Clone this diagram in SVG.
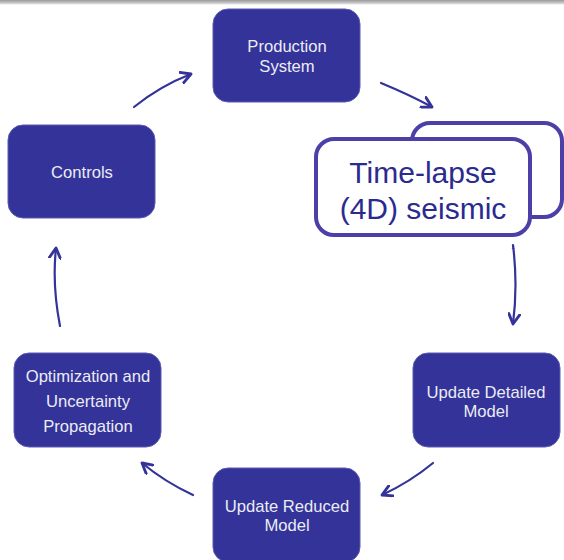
<svg xmlns="http://www.w3.org/2000/svg" width="564" height="560" viewBox="0 0 564 560">
<style>
.box{fill:#333399;stroke:#5a5ab0;stroke-width:1}
.lt{font-family:"Liberation Sans",Arial,sans-serif;font-size:16.6px;fill:#ececf4;text-anchor:middle}
.big{font-family:"Liberation Sans",Arial,sans-serif;font-size:30px;fill:#2b2b8f;text-anchor:middle}
.outline{fill:#ffffff;stroke:#4d3fa8;stroke-width:4}
.conn{fill:none;stroke:#333399;stroke-width:2.2;stroke-linecap:round;marker-end:url(#ah)}
</style>
<defs>
<linearGradient id="topbar" x1="0" y1="0" x2="0" y2="1">
<stop offset="0" stop-color="#9a9a9a"/>
<stop offset="0.6" stop-color="#c8c8c8"/>
<stop offset="1" stop-color="#ffffff"/>
</linearGradient>
<marker id="ah" viewBox="0 0 12 12" refX="10" refY="6" markerWidth="6" markerHeight="6" orient="auto" markerUnits="strokeWidth">
<path d="M1,1 L10,6 L1,11" fill="none" stroke="#333399" stroke-width="2.6" stroke-linecap="round" stroke-linejoin="round"/>
</marker>
</defs>
<rect x="0" y="0" width="564" height="560" fill="#ffffff"/>
<rect x="0" y="0" width="564" height="5" fill="url(#topbar)"/>

<g id="connectors">
<path class="conn" d="M134,107 Q160,86 191,74"/>
<path class="conn" d="M381,83 Q410,95 432,107"/>
<path class="conn" d="M513,245 Q518,285 513,324"/>
<path class="conn" d="M433,463 Q410,482 382,495"/>
<path class="conn" d="M193,495 Q165,482 142,463"/>
<path class="conn" d="M60,326 Q52,285 56,248"/>
</g>

<g id="production-system">
<rect class="box" x="213" y="9" width="147" height="93" rx="15"/>
<text class="lt" x="287" y="52">Production</text>
<text class="lt" x="287" y="72">System</text>
</g>

<g id="time-lapse">
<rect class="outline" x="412" y="123" width="150" height="94" rx="18"/>
<rect class="outline" x="316" y="139" width="214" height="96" rx="18"/>
<text class="big" x="423" y="183">Time-lapse</text>
<text class="big" x="423" y="219">(4D) seismic</text>
<text x="513" y="249" font-family="Liberation Sans,Arial,sans-serif" font-size="6" fill="#2b2b8f" text-anchor="middle">1</text>
</g>

<g id="update-detailed">
<rect class="box" x="413" y="353" width="147" height="94" rx="15"/>
<text class="lt" x="486" y="398">Update Detailed</text>
<text class="lt" x="486" y="417">Model</text>
</g>

<g id="update-reduced">
<rect class="box" x="213" y="468" width="147" height="94" rx="15"/>
<text class="lt" x="287" y="512">Update Reduced</text>
<text class="lt" x="287" y="531">Model</text>
</g>

<g id="optimization">
<rect class="box" x="14" y="353" width="147" height="94" rx="15"/>
<text class="lt" x="88" y="382">Optimization and</text>
<text class="lt" x="88" y="407">Uncertainty</text>
<text class="lt" x="88" y="432">Propagation</text>
</g>

<g id="controls">
<rect class="box" x="8" y="125" width="147" height="93" rx="15"/>
<text class="lt" x="82" y="178">Controls</text>
</g>
</svg>
